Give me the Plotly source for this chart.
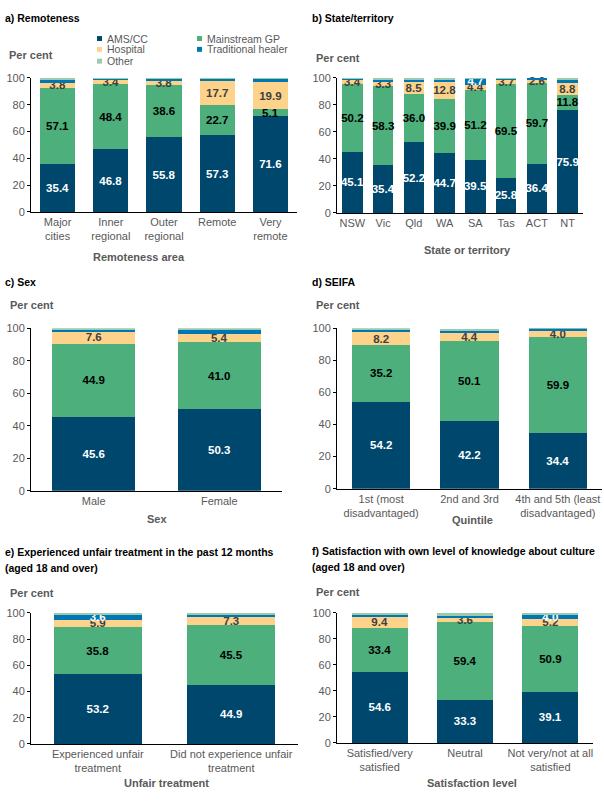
import plotly.graph_objects as go

W, H = 604, 809
FONT = "Liberation Sans"

series_names = ["AMS/CC", "Mainstream GP", "Hospital", "Traditional healer", "Other"]
series_colors = ["#00476D", "#4CAF7C", "#FDD28A", "#0077B5", "#9CCAAE"]
label_colors = ["#FFFFFF", "#000000", "#404040", "#FFFFFF", "#404040"]

# a) Remoteness
remote_cats = ["Major<br>cities", "Inner<br>regional", "Outer<br>regional", "Remote", "Very<br>remote"]
remote_ams = [35.4, 46.8, 55.8, 57.3, 71.6]
remote_gp = [57.1, 48.4, 38.6, 22.7, 5.1]
remote_hosp = [3.8, 3.4, 3.8, 17.7, 19.9]
remote_trad = [2.1, 1.0, 1.2, 2.0, 3.0]
remote_other = [1.6, 0.4, 0.6, 0.3, 0.4]

# b) State/territory
state_cats = ["NSW", "Vic", "Qld", "WA", "SA", "Tas", "ACT", "NT"]
state_ams = [45.1, 35.4, 52.2, 44.7, 39.5, 25.8, 36.4, 75.9]
state_gp = [50.2, 58.3, 36.0, 39.9, 51.2, 69.5, 59.7, 11.8]
state_hosp = [3.4, 3.3, 8.5, 12.8, 4.4, 3.7, 2.6, 8.8]
state_trad = [0.8, 1.7, 2.0, 1.0, 4.7, 0.5, 1.3, 2.0]
state_other = [0.5, 1.3, 1.3, 1.6, 0.2, 0.5, 0.0, 1.5]

# c) Sex
sex_cats = ["Male", "Female"]
sex_ams = [45.6, 50.3]
sex_gp = [44.9, 41.0]
sex_hosp = [7.6, 5.4]
sex_trad = [0.7, 2.2]
sex_other = [1.2, 1.1]

# d) SEIFA
seifa_cats = ["1st (most<br>disadvantaged)", "2nd and 3rd", "4th and 5th (least<br>disadvantaged)"]
seifa_ams = [54.2, 42.2, 34.4]
seifa_gp = [35.2, 50.1, 59.9]
seifa_hosp = [8.2, 4.4, 4.0]
seifa_trad = [1.0, 1.9, 1.5]
seifa_other = [1.4, 1.1, 0.2]

# e) Unfair treatment
unfair_cats = ["Experienced unfair<br>treatment", "Did not experience unfair<br>treatment"]
unfair_ams = [53.2, 44.9]
unfair_gp = [35.8, 45.5]
unfair_hosp = [5.9, 7.3]
unfair_trad = [3.6, 1.0]
unfair_other = [1.5, 1.3]

# f) Satisfaction with knowledge about culture
satis_cats = ["Satisfied/very<br>satisfied", "Neutral", "Not very/not at all<br>satisfied"]
satis_ams = [54.6, 33.3, 39.1]
satis_gp = [33.4, 59.4, 50.9]
satis_hosp = [9.4, 3.6, 5.2]
satis_trad = [1.2, 2.0, 4.0]
satis_other = [1.4, 1.3, 0.8]

y_ticks = [0, 20, 40, 60, 80, 100]

panels = [
    dict(cats=remote_cats, vals=[remote_ams, remote_gp, remote_hosp, remote_trad, remote_other],
         px=(31, 297), py=(73, 209), title=["a) Remoteness"], tpos=(3, 12),
         percent=(7, 50), xtitle="Remoteness area", xt=(139, 255)),
    dict(cats=state_cats, vals=[state_ams, state_gp, state_hosp, state_trad, state_other],
         px=(337, 583), py=(73, 210), title=["b) State/territory"], tpos=(310, 12),
         percent=(314, 53), xtitle="State or territory", xt=(467, 248)),
    dict(cats=sex_cats, vals=[sex_ams, sex_gp, sex_hosp, sex_trad, sex_other],
         px=(31, 282), py=(327, 492), title=["c) Sex"], tpos=(3, 280),
         percent=(8, 303), xtitle="Sex", xt=(157, 521)),
    dict(cats=seifa_cats, vals=[seifa_ams, seifa_gp, seifa_hosp, seifa_trad, seifa_other],
         px=(337, 602), py=(327, 490), title=["d) SEIFA"], tpos=(310, 280),
         percent=(314, 304), xtitle="Quintile", xt=(472, 522)),
    dict(cats=unfair_cats, vals=[unfair_ams, unfair_gp, unfair_hosp, unfair_trad, unfair_other],
         px=(31, 298), py=(616, 749),
         title=["e) Experienced unfair treatment in the past 12 months", "(aged 18 and over)"],
         tpos=(3, 554), percent=(8, 596), xtitle="Unfair treatment", xt=(166, 789)),
    dict(cats=satis_cats, vals=[satis_ams, satis_gp, satis_hosp, satis_trad, satis_other],
         px=(337, 593), py=(616, 748),
         title=["f) Satisfaction with own level of knowledge about culture", "(aged 18 and over)"],
         tpos=(310, 553), percent=(314, 595), xtitle="Satisfaction level", xt=(472, 789)),
]


def fx(px):
    return px / W


def fy(py):
    return 1 - py / H


def label_for(series_idx, v):
    if series_idx in (0, 1, 2):
        return f"{v:.1f}"
    if series_idx == 3 and v >= 3.5:
        return f"{v:.1f}"
    return ""


fig = go.Figure()
annotations = []
shapes = []

for i, p in enumerate(panels):
    n = i + 1
    xa = "x" if n == 1 else f"x{n}"
    ya = "y" if n == 1 else f"y{n}"
    for s, vals in enumerate(p["vals"]):
        fig.add_trace(go.Bar(
            x=p["cats"], y=vals, name=series_names[s], xaxis=xa, yaxis=ya,
            marker=dict(color=series_colors[s], line=dict(width=0)),
            text=[label_for(s, v) for v in vals],
            textposition="inside", insidetextanchor="middle",
            constraintext="none", textangle=0, cliponaxis=False,
            textfont=dict(family=FONT, size=11.5, color=label_colors[s], weight="bold"),
            showlegend=False, hoverinfo="skip",
        ))
    xkey = "xaxis" if n == 1 else f"xaxis{n}"
    ykey = "yaxis" if n == 1 else f"yaxis{n}"
    fig.layout[xkey] = dict(
        domain=[fx(p["px"][0]), fx(p["px"][1])], anchor=ya,
        showline=True, linecolor="#000000", linewidth=1, ticks="",
        tickfont=dict(family=FONT, size=11, color="#595959"),
        showgrid=False, zeroline=False, fixedrange=True,
    )
    fig.layout[ykey] = dict(
        domain=[fy(p["py"][1]), fy(p["py"][0])], anchor=xa,
        range=[0, 100], tickvals=y_ticks,
        showline=True, linecolor="#000000", linewidth=1,
        ticks="outside", ticklen=3, tickcolor="#000000",
        tickfont=dict(family=FONT, size=11, color="#595959"),
        showgrid=False, zeroline=False, fixedrange=True,
    )
    # title lines
    for k, line in enumerate(p["title"]):
        annotations.append(dict(
            text=line, x=fx(p["tpos"][0]), y=fy(p["tpos"][1] + k * 16),
            xref="paper", yref="paper", xanchor="left", yanchor="middle",
            showarrow=False, font=dict(family=FONT, size=10.5, color="#000000", weight="bold"),
        ))
    annotations.append(dict(
        text="Per cent", x=fx(p["percent"][0]), y=fy(p["percent"][1]),
        xref="paper", yref="paper", xanchor="left", yanchor="middle",
        showarrow=False, font=dict(family=FONT, size=11, color="#595959", weight="bold"),
    ))
    annotations.append(dict(
        text=p["xtitle"], x=fx(p["xt"][0]), y=fy(p["xt"][1]),
        xref="paper", yref="paper", xanchor="center", yanchor="middle",
        showarrow=False, font=dict(family=FONT, size=11, color="#595959", weight="bold"),
    ))

# manual legend (in panel a)
legend_pos = [(97, 33), (197, 33), (97, 44), (197, 44), (97, 56)]
for s, (lx, ly) in enumerate(legend_pos):
    shapes.append(dict(
        type="rect", xref="paper", yref="paper",
        x0=fx(lx), x1=fx(lx + 5), y0=fy(ly + 2.5), y1=fy(ly - 2.5),
        fillcolor=series_colors[s], line=dict(width=0),
    ))
    annotations.append(dict(
        text=series_names[s], x=fx(lx + 8), y=fy(ly),
        xref="paper", yref="paper", xanchor="left", yanchor="middle",
        showarrow=False, font=dict(family=FONT, size=10.5, color="#595959"),
    ))

fig.update_layout(
    width=W, height=H,
    margin=dict(l=0, r=0, t=0, b=0),
    barmode="stack", bargap=0.34,
    paper_bgcolor="#FFFFFF", plot_bgcolor="#FFFFFF",
    font=dict(family=FONT, color="#595959"),
    annotations=annotations, shapes=shapes,
    showlegend=False,
)

fig.write_html("out.html")
